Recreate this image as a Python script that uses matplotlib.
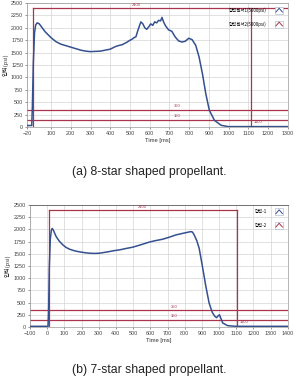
import matplotlib
matplotlib.use("Agg")
import matplotlib.pyplot as plt
from matplotlib.lines import Line2D
from matplotlib.patches import Rectangle
from matplotlib.legend_handler import HandlerBase

plt.rcParams['font.family'] = ['Liberation Sans', 'Noto Sans CJK KR', 'DejaVu Sans']

# ---- data: (a) 8-star ----
t1 = [-20, 2, 5, 10, 16, 22, 30, 40, 55, 70, 100, 125, 150, 175, 200, 225, 250, 275, 300,
      325, 350, 375, 400, 425, 440, 460, 480, 500, 510, 520, 530, 540, 555, 565, 575, 585,
      595, 605, 615, 625, 635, 645, 655, 662, 670, 680, 695, 712, 729, 747, 764, 780, 798,
      815, 833, 850, 867, 884, 902, 928, 962, 997, 1300]
p1 = [30, 30, 400, 1300, 1900, 2060, 2100, 2080, 2000, 1920, 1800, 1720, 1670, 1640, 1610,
      1580, 1550, 1530, 1520, 1525, 1530, 1550, 1570, 1620, 1640, 1660, 1700, 1750, 1770,
      1800, 1820, 1950, 2120, 2080, 2000, 1970, 2020, 2080, 2050, 2120, 2100, 2150, 2140,
      2210, 2120, 2040, 1960, 1930, 1815, 1734, 1714, 1730, 1790, 1760, 1647, 1411, 1075,
      672, 336, 134, 34, 8, 8]
xticks1 = [-20, 100, 200, 300, 400, 500, 600, 700, 800, 900, 1000, 1100, 1200, 1300]
box1 = dict(t_start=8, t_end=1112, top=2400, lines=[350, 150])
legend1 = ['압력센서1(5000psi)', '압력센서2(5000psi)']

# ---- data: (b) 7-star ----
t2 = [-100, 5, 8, 12, 18, 24, 29, 35, 52, 70, 91, 110, 130, 160, 188, 220, 246, 275, 304,
      335, 362, 390, 420, 460, 497, 540, 594, 630, 671, 710, 749, 790, 836, 845, 855, 870,
      884, 903, 923, 942, 960, 975, 985, 995, 1002, 1010, 1021, 1050, 1098, 1400]
p2 = [14, 14, 300, 1200, 1800, 1980, 2020, 1990, 1853, 1760, 1683, 1630, 1594, 1560, 1540,
      1522, 1512, 1508, 1512, 1530, 1546, 1565, 1580, 1610, 1635, 1680, 1740, 1770, 1798,
      1840, 1887, 1920, 1955, 1945, 1887, 1770, 1614, 1240, 831, 490, 300, 220, 190, 230,
      250, 180, 82, 27, 14, 14]
xticks2 = [-100, 0, 100, 200, 300, 400, 500, 600, 700, 800, 900, 1000, 1100, 1200, 1300, 1400]
box2 = dict(t_start=10, t_end=1105, top=2400, lines=[350, 150])
legend2 = ['압력-1', '압력-2']

yticks = [0, 250, 500, 750, 1000, 1250, 1500, 1750, 2000, 2250, 2500]
captions = ['(a) 8-star shaped propellant.', '(b) 7-star shaped propellant.']

BLUE = '#34508f'
RED = '#a8344e'
GRID = '#d4d4d4'


class CaretBox(HandlerBase):
    def create_artists(self, legend, orig_handle, xdescent, ydescent, width, height, fontsize, trans):
        c = orig_handle.get_color()
        bh = height * 2.2
        w = bh * 1.25
        x0 = width - w - xdescent
        y0 = -ydescent + height / 2 - bh / 2
        rect = Rectangle((x0, y0), w, bh, facecolor='white', edgecolor='#9fb0d0',
                         lw=0.4, transform=trans)
        line = Line2D([x0 + w * 0.12, x0 + w * 0.5, x0 + w * 0.88],
                      [y0 + bh * 0.25, y0 + bh * 0.8, y0 + bh * 0.25],
                      color=c, lw=0.7, transform=trans)
        return [rect, line]


fig = plt.figure(figsize=(2.98, 3.78), dpi=100)


def make(ax_rect, t, p, xticks, box, legend, caption, cap_y, top_frame, lbl_pos, full_top):
    ax = fig.add_axes(ax_rect)
    ax.plot(t, p, color=BLUE, lw=1.1, zorder=3)
    x0, x1 = xticks[0], xticks[-1]
    ax.set_xlim(x0, x1)
    ax.set_ylim(0, 2500)
    ax.set_xticks(xticks)
    ax.set_yticks(yticks)
    ax.tick_params(labelsize=3.9, length=1.5, width=0.4, pad=1.5, colors='#444444')
    ax.grid(True, color=GRID, lw=0.5)
    for s in ax.spines.values():
        s.set_color('#999999')
        s.set_linewidth(0.5)
    if top_frame:
        ax.spines['top'].set_color('#444444')
    top_end = x1 if full_top else box['t_end']
    ax.plot([box['t_start'], top_end], [box['top'], box['top']], color=RED, lw=0.9, zorder=2)
    ax.plot([box['t_start'], box['t_start']], [0, box['top']], color=RED, lw=0.9, zorder=2)
    ax.plot([box['t_end'], box['t_end']], [0, box['top']], color=RED, lw=0.9, zorder=2)
    for v in box['lines']:
        ax.axhline(v, color=RED, lw=0.9, zorder=2)
    ax.text(lbl_pos[0], box['top'] + 20, str(box['top']), fontsize=3, color=RED, ha='center', va='bottom')
    ax.text(lbl_pos[1], box['lines'][0] + 25, str(box['lines'][0]), fontsize=3, color=RED, ha='center', va='bottom')
    ax.text(lbl_pos[1], box['lines'][1] + 25, str(box['lines'][1]), fontsize=3, color=RED, ha='center', va='bottom')
    ax.text(box['t_end'] + 15, 70, '1100', fontsize=3, color=RED, ha='left', va='bottom')
    ax.set_xlabel('Time [ms]', fontsize=4.2, labelpad=1.5, color='#333333')
    ax.set_ylabel('압력(psi)', fontsize=4.2, labelpad=2, color='#333333',
                  family=['Noto Sans CJK KR', 'DejaVu Sans'])
    handles = [Line2D([], [], color=BLUE, lw=0.8), Line2D([], [], color=RED, lw=0.8)]
    ax.legend(handles, legend, loc='upper right', frameon=False,
              markerfirst=False, handlelength=3.2, handletextpad=0.6,
              labelspacing=1.9, borderaxespad=0.6,
              handler_map={Line2D: CaretBox()},
              prop={'family': ['Noto Sans CJK KR', 'DejaVu Sans'], 'size': 3.2})
    fig.text(0.5, cap_y, caption, fontsize=8.8, ha='center', va='center', color='#222222')
    return ax


make([0.092, 0.664, 0.874, 0.328], t1, p1, xticks1, box1, legend1, captions[0], 0.545,
     False, (530, 740), True)
make([0.1007, 0.1349, 0.8653, 0.3228], t2, p2, xticks2, box2, legend2, captions[1], 0.021,
     True, (555, 740), False)

fig.savefig('out.png', dpi=100, facecolor='white')
